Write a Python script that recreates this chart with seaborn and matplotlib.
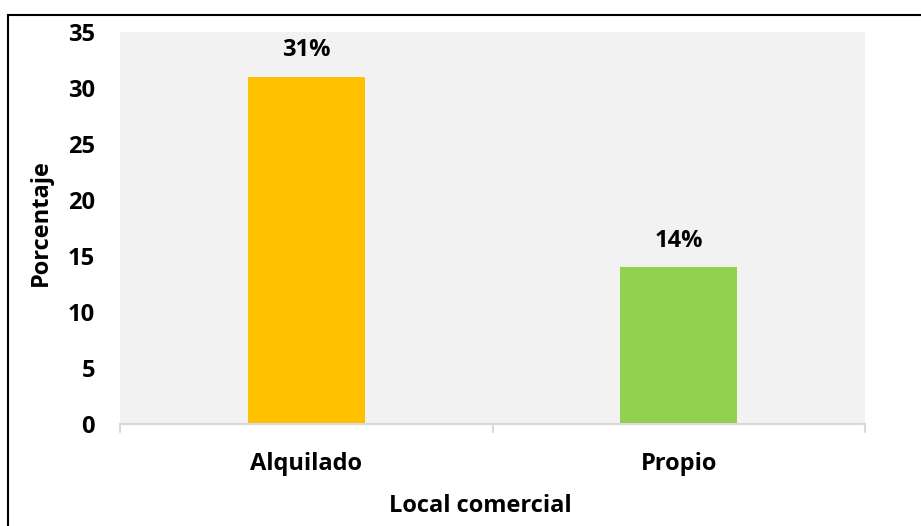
import matplotlib.pyplot as plt
import matplotlib.patches as mpatches
import pandas as pd
import seaborn as sns

categories = ["Alquilado", "Propio"]
values = [31, 14]
labels = ["31%", "14%"]
colors = ["#FFC000", "#92D050"]

sns.set_theme(style="white")
plt.rcParams["font.family"] = ["Open Sans", "DejaVu Sans"]
plt.rcParams["font.weight"] = "bold"

FS = 17

df = pd.DataFrame({"local": categories, "pct": values})

fig = plt.figure(figsize=(9.21, 5.26), dpi=100)
ax = fig.add_axes([120 / 921, 102 / 526, 745 / 921, 392 / 526])
ax.set_facecolor("#F2F2F2")

sns.barplot(data=df, x="local", y="pct", hue="local", palette=colors,
            width=0.315, saturation=1, legend=False, linewidth=0, ax=ax)

for i, (v, lab) in enumerate(zip(values, labels)):
    ax.text(i, v + 1.3, lab, ha="center", va="bottom",
            fontsize=FS, fontweight="bold", color="black")

ax.set_ylim(0, 35)
ax.set_xlim(-0.5, 1.5)
ax.set_yticks(range(0, 36, 5))
ax.tick_params(axis="y", length=0, labelsize=FS, pad=18)
ax.tick_params(axis="x", length=0, labelsize=FS, pad=20)
for lbl in ax.get_xticklabels() + ax.get_yticklabels():
    lbl.set_fontweight("bold")
    lbl.set_color("black")

for s in ["top", "right", "left"]:
    ax.spines[s].set_visible(False)
ax.spines["bottom"].set_color("#D9D9D9")
ax.spines["bottom"].set_linewidth(1.5)

# category boundary ticks on the x axis
for xb in [-0.5, 0.5, 1.5]:
    ax.plot([xb, xb], [0, -0.7], color="#D9D9D9", lw=1.5, clip_on=False)

ax.set_xlabel("Local comercial", fontsize=FS, fontweight="bold", color="black")
ax.set_ylabel("Porcentaje", fontsize=FS, fontweight="bold", color="black")
ax.xaxis.set_label_coords(0.483, -0.178)
ax.yaxis.set_label_coords(-0.09, 0.515)

# outer chart frame (cropped at right/bottom)
fig.patches.append(mpatches.Rectangle((8 / 921, -0.05), 1.1, (526 - 15) / 526 + 0.05,
                                      transform=fig.transFigure, fill=False,
                                      edgecolor="black", lw=1.5))

fig.savefig("out.png", dpi=100)
